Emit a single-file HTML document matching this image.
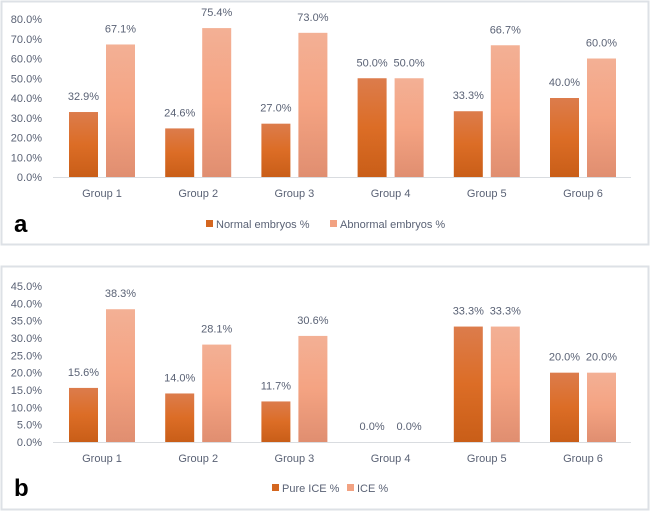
<!DOCTYPE html>
<html><head><meta charset="utf-8"><style>
body{margin:0;background:#fff;}
svg{display:block;font-family:"Liberation Sans",sans-serif;}
</style></head><body>
<svg id="s" width="651" height="512" xmlns="http://www.w3.org/2000/svg">
<defs>
<linearGradient id="gN" x1="0" y1="0" x2="0" y2="1"><stop offset="0" stop-color="#dc7c4c"/><stop offset="0.5" stop-color="#dc6d26"/><stop offset="1" stop-color="#c95e18"/></linearGradient>
<linearGradient id="gA" x1="0" y1="0" x2="0" y2="1"><stop offset="0" stop-color="#f3b095"/><stop offset="0.5" stop-color="#f4a382"/><stop offset="1" stop-color="#e08e70"/></linearGradient>
</defs>
<rect x="1.5" y="1.5" width="647" height="243" fill="#fff" stroke="#dde1e6" stroke-width="2"/>
<rect x="1.5" y="266.5" width="647" height="243" fill="#fff" stroke="#dde1e6" stroke-width="2"/>
</svg>
<script>
const groups=["Group 1","Group 2","Group 3","Group 4","Group 5","Group 6"];
const normalVals=[32.9,24.6,27.0,50.0,33.3,40.0];
const abnormalVals=[67.1,75.4,73.0,50.0,66.7,60.0];
const pureIceVals=[15.6,14.0,11.7,0.0,33.3,20.0];
const iceVals=[38.3,28.1,30.6,0.0,33.3,20.0];
const ticksA=[0,10,20,30,40,50,60,70,80];
const ticksB=[0,5,10,15,20,25,30,35,40,45];
const svg=document.getElementById('s');
const NS="http://www.w3.org/2000/svg";
function el(t,a,txt){const e=document.createElementNS(NS,t);for(const k in a)e.setAttribute(k,a[k]);if(txt!==undefined)e.textContent=txt;svg.appendChild(e);return e;}
function panel(p,s1,s2,ticks,max,y0,y1,n1,n2,letter,legendY,lx1,lx2){
  const y=v=>y0-(v/max)*(y0-y1);
  const cx=i=>102+i*96.2;
  ticks.forEach(t=>{const e=el('text',{x:42,y:y(t)+4,'text-anchor':'end','font-size':'11',fill:'#5a6275'},t.toFixed(1)+'%');
    
    });
  const ax=el('line',{x1:53,y1:y0+0.5,x2:631,y2:y0+0.5,stroke:'#d9dce0','stroke-width':1});
  
  
  groups.forEach((g,i)=>{
    [[s1[i],-33,'url(#gN)',n1],[s2[i],4,'url(#gA)',n2]].forEach(([v,off,f,nm])=>{
      const b=el('rect',{x:cx(i)+off,y:y(v),width:29,height:y0-y(v),fill:f});
      
      
      const l=el('text',{x:cx(i)+off+14.5,y:y(v)-12,'text-anchor':'middle','font-size':'11',fill:'#5a6275'},v.toFixed(1)+'%');
      
      
    });
    const gl=el('text',{x:cx(i),y:y0+20,'text-anchor':'middle','font-size':'11',fill:'#5a6275'},g);
    
    
  });
  const L=el('text',{x:14,y:legendY+8,'font-size':'24','font-weight':'bold',fill:'#000'},letter);
  
  
  [[lx1,'#d4661f',n1==='normal'?'Normal embryos %':'Pure ICE %'],[lx2,'#f2a282',n2==='abnormal'?'Abnormal embryos %':'ICE %']].forEach(([x,c,t])=>{
    const sq=el('rect',{x:x,y:legendY-4,width:7,height:7,fill:c});
    
    
    const tx=el('text',{x:x+10,y:legendY+4,'font-size':'11',fill:'#5a6275'},t);
    
    
  });
}
panel('a',normalVals,abnormalVals,ticksA,80,177,19,'normal','abnormal','a',224,206,330);
panel('b',pureIceVals,iceVals,ticksB,45,442,286,'pure-ice','ice','b',488,272,347);
</script>
</body></html>
